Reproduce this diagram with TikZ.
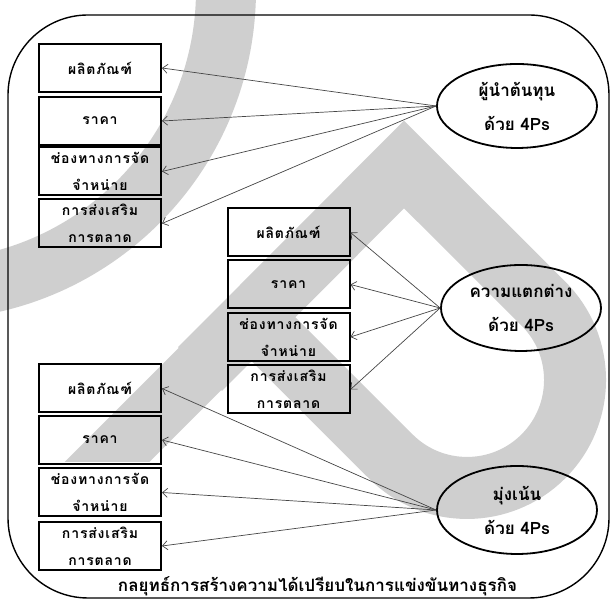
\documentclass[tikz,border=0pt]{standalone}
\usepackage{fontspec}
\newfontfamily\thaifont[Script=Thai]{Loma}
\newfontfamily\thaiwide[Script=Thai,LetterSpace=6]{Loma}
\usetikzlibrary{shapes.geometric,arrows.meta}
\definecolor{markgray}{RGB}{207,207,207}
\definecolor{linkgray}{RGB}{70,70,70}
\begin{document}
\begin{tikzpicture}[x=1pt,y=1pt,
  factor/.style={draw=black, line width=2pt, minimum width=122pt, minimum height=48pt,
    inner sep=0pt, align=center, font=\thaiwide\bfseries\fontsize{14}{27}\selectfont},
  strategy/.style={ellipse, draw=black, line width=1.8pt, minimum width=160pt, minimum height=84pt,
    inner sep=0pt, align=center, font=\thaifont\bfseries\fontsize{17}{34}\selectfont},
  link/.style={draw=linkgray, line width=0.7pt, -{Straight Barb[length=5pt,width=9pt]}},
  frame/.style={draw=black, line width=1.4pt, rounded corners=80pt, minimum width=601pt,
    minimum height=583pt, inner sep=0pt}]
\useasboundingbox (0,0) rectangle (611,601);

% grey background mark: an arc and a looped band
\begin{scope}
  \clip (0,0) rectangle (611,601);
  \fill[markgray, even odd rule] (-74,611) circle[radius=330] (-74,611) circle[radius=270];
  \draw[markgray, line width=62pt, line join=miter]
    (200,232) -- (404,436.5) -- (543.4,297.4)
    arc[start angle=45, end angle=-135, radius=108] -- (251.6,283.7);
  \fill[markgray] (190,264.4) -- (232,221.6) -- (149.4,139) -- (64.6,139) -- cycle;
\end{scope}

% outer frame
\node[frame] (frame) at (308.5,294.5) {};

% cost leadership factors
\node[factor] (a1) at (100,533)   {ผลิตภัณฑ์};
\node[factor] (a2) at (100,480)   {ราคา};
\node[factor] (a3) at (100,429.5) {ช่องทางการจัด\\จำหน่าย};
\node[factor] (a4) at (100,377.5) {การส่งเสริม\\การตลาด};

% differentiation factors
\node[factor] (b1) at (288.5,368.5) {ผลิตภัณฑ์};
\node[factor] (b2) at (288.5,316.5) {ราคา};
\node[factor] (b3) at (288.5,264)   {ช่องทางการจัด\\จำหน่าย};
\node[factor] (b4) at (288.5,211.5) {การส่งเสริม\\การตลาด};

% focus factors
\node[factor] (c1) at (100,212.5) {ผลิตภัณฑ์};
\node[factor] (c2) at (100,161)   {ราคา};
\node[factor] (c3) at (100,108.5) {ช่องทางการจัด\\จำหน่าย};
\node[factor] (c4) at (100,55)    {การส่งเสริม\\การตลาด};

% strategies
\node[strategy] (s1) at (517,495) {ผู้นำต้นทุน\\ด้วย 4Ps};
\node[strategy, minimum height=86pt] (s2) at (521,293) {ความแตกต่าง\\ด้วย 4Ps};
\node[strategy, minimum height=88pt] (s3) at (517,91) {มุ่งเน้น\\ด้วย 4Ps};

% links
\foreach \t in {a1,a2,a3,a4} \draw[link] (s1.west) -- (\t.east);
\foreach \t in {b1,b2,b3,b4} \draw[link] (s2.west) -- (\t.east);
\foreach \t in {c1,c2,c3,c4} \draw[link] (s3.west) -- (\t.east);

% caption
\node[font=\thaifont\bfseries\fontsize{17}{20}\selectfont] (title) at (317.5,15)
  {กลยุทธ์การสร้างความได้เปรียบในการแข่งขันทางธุรกิจ};
\end{tikzpicture}
\end{document}
